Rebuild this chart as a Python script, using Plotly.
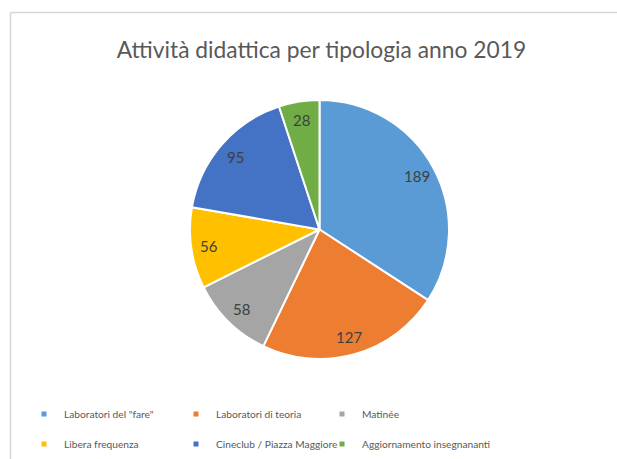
import math
import plotly.graph_objects as go

categories = ['Laboratori del "fare"', "Laboratori di teoria", "Matinée",
              "Libera frequenza", "Cineclub / Piazza Maggiore", "Aggiornamento insegnananti"]
values = [189, 127, 58, 56, 95, 28]
colors = ["#5B9BD5", "#ED7D31", "#A5A5A5", "#FFC000", "#4472C4", "#70AD47"]
title_text = "Attività didattica per tipologia anno 2019"

W, H = 617, 459
FONT = "Lato"

# pie geometry (pixels)
CX, CY, R = 319.5, 229.5, 129.5
LABEL_R = 0.86 * R

fig = go.Figure()
fig.add_trace(go.Pie(
    labels=categories, values=values, sort=False, direction="clockwise", rotation=0,
    marker=dict(colors=colors, line=dict(color="white", width=2)),
    textinfo="none",
    domain=dict(x=[(CX - R) / W, (CX + R) / W], y=[(H - CY - R) / H, (H - CY + R) / H]),
    showlegend=False, hoverinfo="label+value",
))

# data labels placed along each slice bisector
total = sum(values)
annotations = []
cum = 0
for v in values:
    ang = math.radians((cum + v / 2) / total * 360)
    px = CX + LABEL_R * math.sin(ang)
    py = CY - LABEL_R * math.cos(ang)
    annotations.append(dict(x=px / W, y=1 - py / H, xref="paper", yref="paper",
                            text=str(v), showarrow=False, xanchor="center", yanchor="middle",
                            font=dict(family=FONT, size=15, color="#404040")))
    cum += v

# legend: one legend per entry, on a 3-column grid
col_text_x = [64, 216, 362]
row_y = [414, 444]
legend_layout = {}
for i, (c, col) in enumerate(zip(categories, colors)):
    key = "legend" if i == 0 else f"legend{i + 1}"
    fig.add_trace(go.Scatter(
        x=[None], y=[None], mode="markers", name=c,
        marker=dict(symbol="square", size=5, color=col),
        legend=key,
    ))
    legend_layout[key] = dict(
        x=(col_text_x[i % 3] - 40) / W, y=1 - row_y[i // 3] / H,
        xanchor="left", yanchor="middle", orientation="h",
        font=dict(family=FONT, size=10.2, color="#595959"),
        bgcolor="rgba(0,0,0,0)", itemclick=False, itemdoubleclick=False,
    )

fig.update_layout(
    width=W, height=H, margin=dict(l=0, r=0, t=0, b=0),
    paper_bgcolor="white", plot_bgcolor="white",
    title=dict(text=title_text, x=0.521, xanchor="center", y=1 - 50 / H, yanchor="middle",
               yref="container", font=dict(family=FONT, size=22.8, color="#595959")),
    xaxis=dict(visible=False), yaxis=dict(visible=False),
    annotations=annotations,
    shapes=[
        dict(type="line", xref="paper", yref="paper", x0=10.5 / W, x1=10.5 / W, y0=0, y1=1 - 12.5 / H,
             line=dict(color="#d6d6d6", width=1.5)),
        dict(type="line", xref="paper", yref="paper", x0=10.5 / W, x1=1, y0=1 - 12.5 / H, y1=1 - 12.5 / H,
             line=dict(color="#d6d6d6", width=1.5)),
    ],
    **legend_layout,
)

fig.write_html("out.html")
